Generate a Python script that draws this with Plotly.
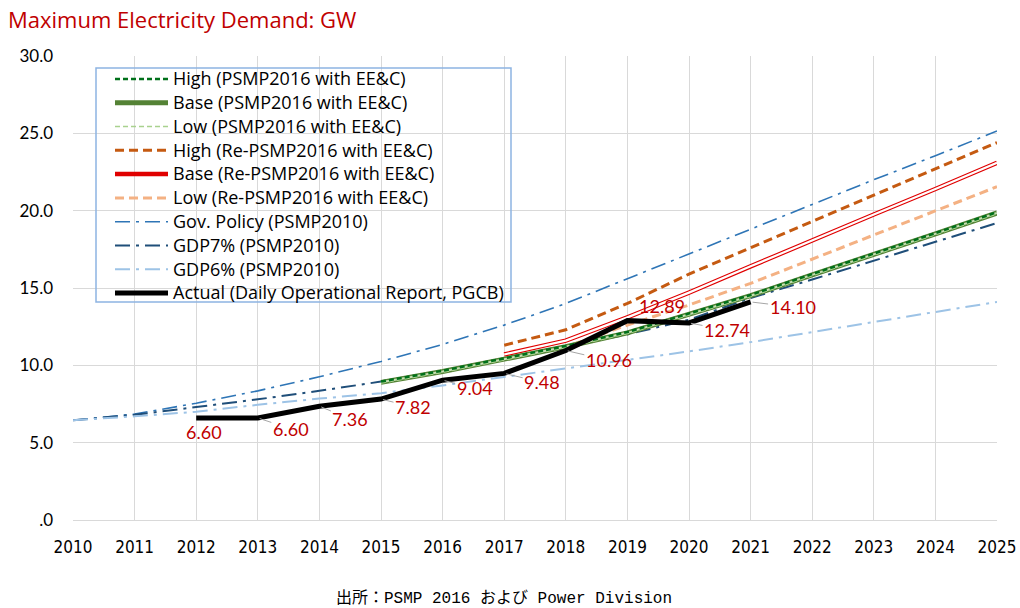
import plotly.graph_objects as go

years = list(range(2010, 2026))

# PSMP2016 with EE&C (from 2015)
high_psmp2016 = [None]*5 + [8.95, 9.65, 10.45, 11.25, 12.15, 13.35, 14.55, 15.9, 17.2, 18.55, 19.9]
base_psmp2016 = [None]*5 + [8.9, 9.6, 10.4, 11.2, 12.1, 13.3, 14.5, 15.85, 17.15, 18.5, 19.85]
low_psmp2016  = [None]*5 + [8.85, 9.55, 10.35, 11.15, 12.05, 13.25, 14.45, 15.8, 17.1, 18.45, 19.8]

# Re-PSMP2016 with EE&C (from 2017)
high_re = [None]*7 + [11.3, 12.3, 14.0, 15.9, 17.6, 19.3, 20.95, 22.65, 24.4]
base_re = [None]*7 + [10.7, 11.6, 13.1, 14.7, 16.4, 18.1, 19.75, 21.4, 23.1]
low_re  = [None]*7 + [10.45, 11.2, 12.6, 13.9, 15.3, 16.85, 18.4, 19.95, 21.55]

# PSMP2010
gov_policy = [6.45, 6.85, 7.55, 8.35, 9.26, 10.25, 11.35, 12.6, 14.0, 15.6, 17.25, 18.85, 20.45, 22.0, 23.55, 25.15]
gdp7 = [6.45, 6.8, 7.3, 7.8, 8.35, 8.95, 9.65, 10.45, 11.2, 12.0, 12.95, 14.35, 15.55, 16.75, 17.95, 19.2]
gdp6 = [6.45, 6.7, 7.0, 7.45, 7.85, 8.2, 8.7, 9.25, 9.8, 10.35, 10.9, 11.5, 12.15, 12.8, 13.45, 14.1]

# Actual (Daily Operational Report, PGCB)
actual = [None, None, 6.60, 6.60, 7.36, 7.82, 9.04, 9.48, 10.96, 12.89, 12.74, 14.10, None, None, None, None]
actual_labels = ["6.60", "6.60", "7.36", "7.82", "9.04", "9.48", "10.96", "12.89", "12.74", "14.10"]
actual_label_years = [2012, 2013, 2014, 2015, 2016, 2017, 2018, 2019, 2020, 2021]

ytick_vals = [0, 5, 10, 15, 20, 25, 30]
ytick_text = [".0", "5.0", "10.0", "15.0", "20.0", "25.0", "30.0"]

FONT = "'Open Sans', sans-serif"
LABFONT = "Lato, sans-serif"
DASHDOT = "15px,6px,3px,6px"

# plot area in pixels
L, R, T, B = 73, 997, 56, 520
def px_x(p): return (p - L) / (R - L)
def px_y(p): return (B - p) / (B - T)

fig = go.Figure()

def add(y, name, color, width, dash="solid", showlegend=True, group=None):
    fig.add_trace(go.Scatter(
        x=years, y=y, name=name, mode="lines",
        line=dict(color=color, width=width, dash=dash),
        showlegend=showlegend, legendgroup=group or name,
        hoverinfo="skip"))

def lg(name):
    return '<span style="font-size:18px">' + name.replace("&", "&amp;") + '</span>'

# PSMP2010 lines first (behind)
add(gov_policy, "Gov. Policy (PSMP2010)", "#2E75B6", 1.6, DASHDOT)
add(gdp7, "GDP7% (PSMP2010)", "#1F4E79", 2, DASHDOT)
add(gdp6, "GDP6% (PSMP2010)", "#9DC3E6", 2, DASHDOT)

# Re-PSMP2016
add(high_re, "High (Re-PSMP2016 with EE&C)", "#C55A11", 3, "9px,5px")
add(base_re, "Base (Re-PSMP2016 with EE&C)", "#E00000", 4.5)
add(base_re, "base_re_inner", "#FFFFFF", 2.2, showlegend=False, group="Base (Re-PSMP2016 with EE&C)")
add(low_re, "Low (Re-PSMP2016 with EE&C)", "#F4B183", 3, "9px,5px")

# PSMP2016
add(base_psmp2016, "Base (PSMP2016 with EE&C)", "#548235", 5)
add(base_psmp2016, "base_inner", "#C5E0B4", 2, showlegend=False, group="Base (PSMP2016 with EE&C)")
add(low_psmp2016, "Low (PSMP2016 with EE&C)", "#A9D18E", 1.5, "5px,3px")
add(high_psmp2016, "High (PSMP2016 with EE&C)", "#00701A", 2.5, "5px,3px")

add(actual, "Actual (Daily Operational Report, PGCB)", "#000000", 5)

order = [
    "High (PSMP2016 with EE&C)", "Base (PSMP2016 with EE&C)", "Low (PSMP2016 with EE&C)",
    "High (Re-PSMP2016 with EE&C)", "Base (Re-PSMP2016 with EE&C)", "Low (Re-PSMP2016 with EE&C)",
    "Gov. Policy (PSMP2010)", "GDP7% (PSMP2010)", "GDP6% (PSMP2010)",
    "Actual (Daily Operational Report, PGCB)",
]
for tr in fig.data:
    if tr.showlegend is not False and tr.name in order:
        tr.legendrank = order.index(tr.name) + 1
        tr.name = lg(tr.name)

# Data labels for actual values
offsets = {
    2012: (8, 14, False), 2013: (33, 11, True), 2014: (31, 13, True), 2015: (32, 8, True),
    2016: (32, 8, True), 2017: (38, 9, True), 2018: (43, 10, True), 2019: (35, -15, False),
    2020: (38, 7, True), 2021: (42, 5, True),
}
for yr, lab in zip(actual_label_years, actual_labels):
    val = actual[years.index(yr)]
    ax, ay, arr = offsets[yr]
    fig.add_annotation(
        x=yr, y=val, xref="x", yref="y", text=lab,
        showarrow=True, arrowhead=0, arrowwidth=1,
        arrowcolor="#A6A6A6" if arr else "rgba(0,0,0,0)",
        ax=ax, ay=ay, standoff=2,
        font=dict(family=LABFONT, size=18, color="#C00000"))

# Source footnote
fig.add_annotation(
    x=px_x(504), y=px_y(598), xref="paper", yref="paper",
    text="出所：PSMP 2016 および Power Division", showarrow=False,
    font=dict(family="'Liberation Mono', 'Noto Sans CJK JP', monospace", size=16, color="#000000"),
    xanchor="center", yanchor="middle")

# legend frame
fig.add_shape(type="rect", xref="paper", yref="paper",
              x0=px_x(96), x1=px_x(511), y0=px_y(302), y1=px_y(68),
              line=dict(color="#8DB4E2", width=1.5), fillcolor="rgba(0,0,0,0)", layer="above")

fig.update_layout(
    width=1020, height=608,
    margin=dict(l=L, r=1020 - R, t=T, b=608 - B, autoexpand=False),
    paper_bgcolor="white", plot_bgcolor="white",
    title=dict(text="Maximum Electricity Demand: GW", x=8/1020, xanchor="left",
               y=1-20/608, yanchor="middle", automargin=False,
               font=dict(family=FONT, size=22, color="#C00000")),
    showlegend=True,
    legend=dict(x=px_x(110), y=px_y(62), xanchor="left", yanchor="top",
                bgcolor="rgba(0,0,0,0)", borderwidth=0,
                font=dict(family=FONT, size=16, color="#000000"),
                itemwidth=53, traceorder="normal"),
    xaxis=dict(range=[2010, 2025], tickvals=years, ticktext=[str(y) for y in years],
               showgrid=True, gridcolor="#D9D9D9", gridwidth=1, automargin=False,
               showline=True, linecolor="#D9D9D9", ticks="", zeroline=False,
               ticklabelstandoff=12,
               tickfont=dict(family="'DejaVu Sans Condensed', 'Liberation Sans Narrow', sans-serif", size=17, color="#000000")),
    yaxis=dict(range=[0, 30], tickvals=ytick_vals, ticktext=ytick_text,
               showgrid=True, gridcolor="#D9D9D9", gridwidth=1, automargin=False,
               showline=False, ticks="", zeroline=False,
               ticklabelstandoff=19,
               tickfont=dict(family=LABFONT, size=17, color="#000000")),
)

fig.write_html("out.html", config={"displayModeBar": False},
               post_script="document.body.style.margin='0px';")
